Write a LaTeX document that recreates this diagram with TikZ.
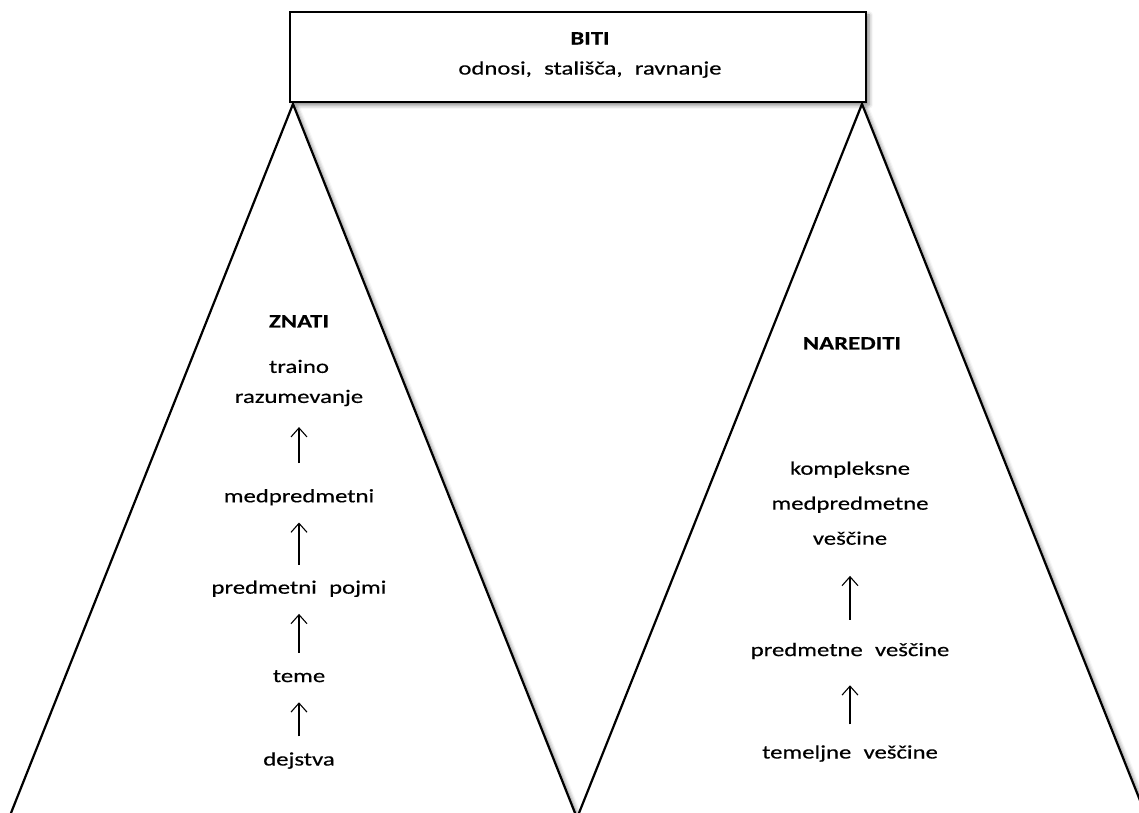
\documentclass[tikz,border=0pt]{standalone}
\usepackage{fontspec}
\setmainfont{Carlito}[FakeStretch=1.3, WordSpace=2.2, FakeBold=0.4]
\usetikzlibrary{positioning,arrows.meta,shadows.blur}

\begin{document}
\begin{tikzpicture}[x=1pt, y=1pt,
  font=\fontsize{19}{30}\selectfont,
  pyr/.style={draw, line width=2.2pt, fill=white,
              blur shadow={shadow xshift=3pt, shadow yshift=-3pt,
                           shadow blur radius=4pt, shadow opacity=50}},
  lbl/.style={inner sep=1pt, align=center, text height=14pt, text depth=5pt},
  head/.style={lbl, font=\fontsize{19}{30}\selectfont\bfseries},
  arr/.style={-{Straight Barb[length=9pt, width=16pt]}, line width=1.1pt,
              shorten <=14pt, shorten >=14pt},
  node distance=62pt]
\useasboundingbox (0,0) rectangle (1139,812);
\begin{scope}
\clip (0,0) rectangle (1139,812);
% the two pyramids
\draw[pyr] (293,708) -- (577,-6) -- (9,-6) -- cycle;
\draw[pyr] (862,708) -- (1147,-6) -- (577,-6) -- cycle;
\end{scope}
% top box
\node[pyr, minimum width=576pt, minimum height=90pt, inner sep=0pt] (box) at (578,755) {};
\node[align=center, inner sep=0pt] (biti) at (590,757)
  {\textbf{BITI}\\odnosi, stališča, ravnanje};

% ZNATI
\node[lbl] (dej) at (299,51) {dejstva};
\node[lbl, above=of dej]   (teme)  {teme};
\node[lbl, above=67pt of teme]  (pojmi) {predmetni pojmi};
\node[lbl, above=70pt of pojmi] (medp)  {medpredmetni};
\node[lbl, above=78pt of medp, text height=44pt] (trajno) {traino\\razumevanje};
\node[head, above=24pt of trajno] (znati) {ZNATI};
\draw[arr] (dej) -- (teme);
\draw[arr] (teme) -- (pojmi);
\draw[arr] (pojmi) -- (medp);
\draw[arr, shorten <=24pt, shorten >=18pt] (medp) -- (trajno);

% NAREDITI
\node[lbl] (temelj) at (850,58) {temeljne veščine};
\node[lbl, above=81pt of temelj] (predv) {predmetne veščine};
\node[lbl, above=90pt of predv, text height=84pt,
      font=\fontsize{19}{35}\selectfont] (kompl) {kompleksne\\medpredmetne\\veščine};
\node[head, at={(852,467)}] (nared) {NAREDITI};
\draw[arr, shorten <=19pt, shorten >=23pt] (temelj) -- (predv);
\draw[arr, shorten <=21pt, shorten >=25pt] (predv) -- (kompl);
\end{tikzpicture}
\end{document}
